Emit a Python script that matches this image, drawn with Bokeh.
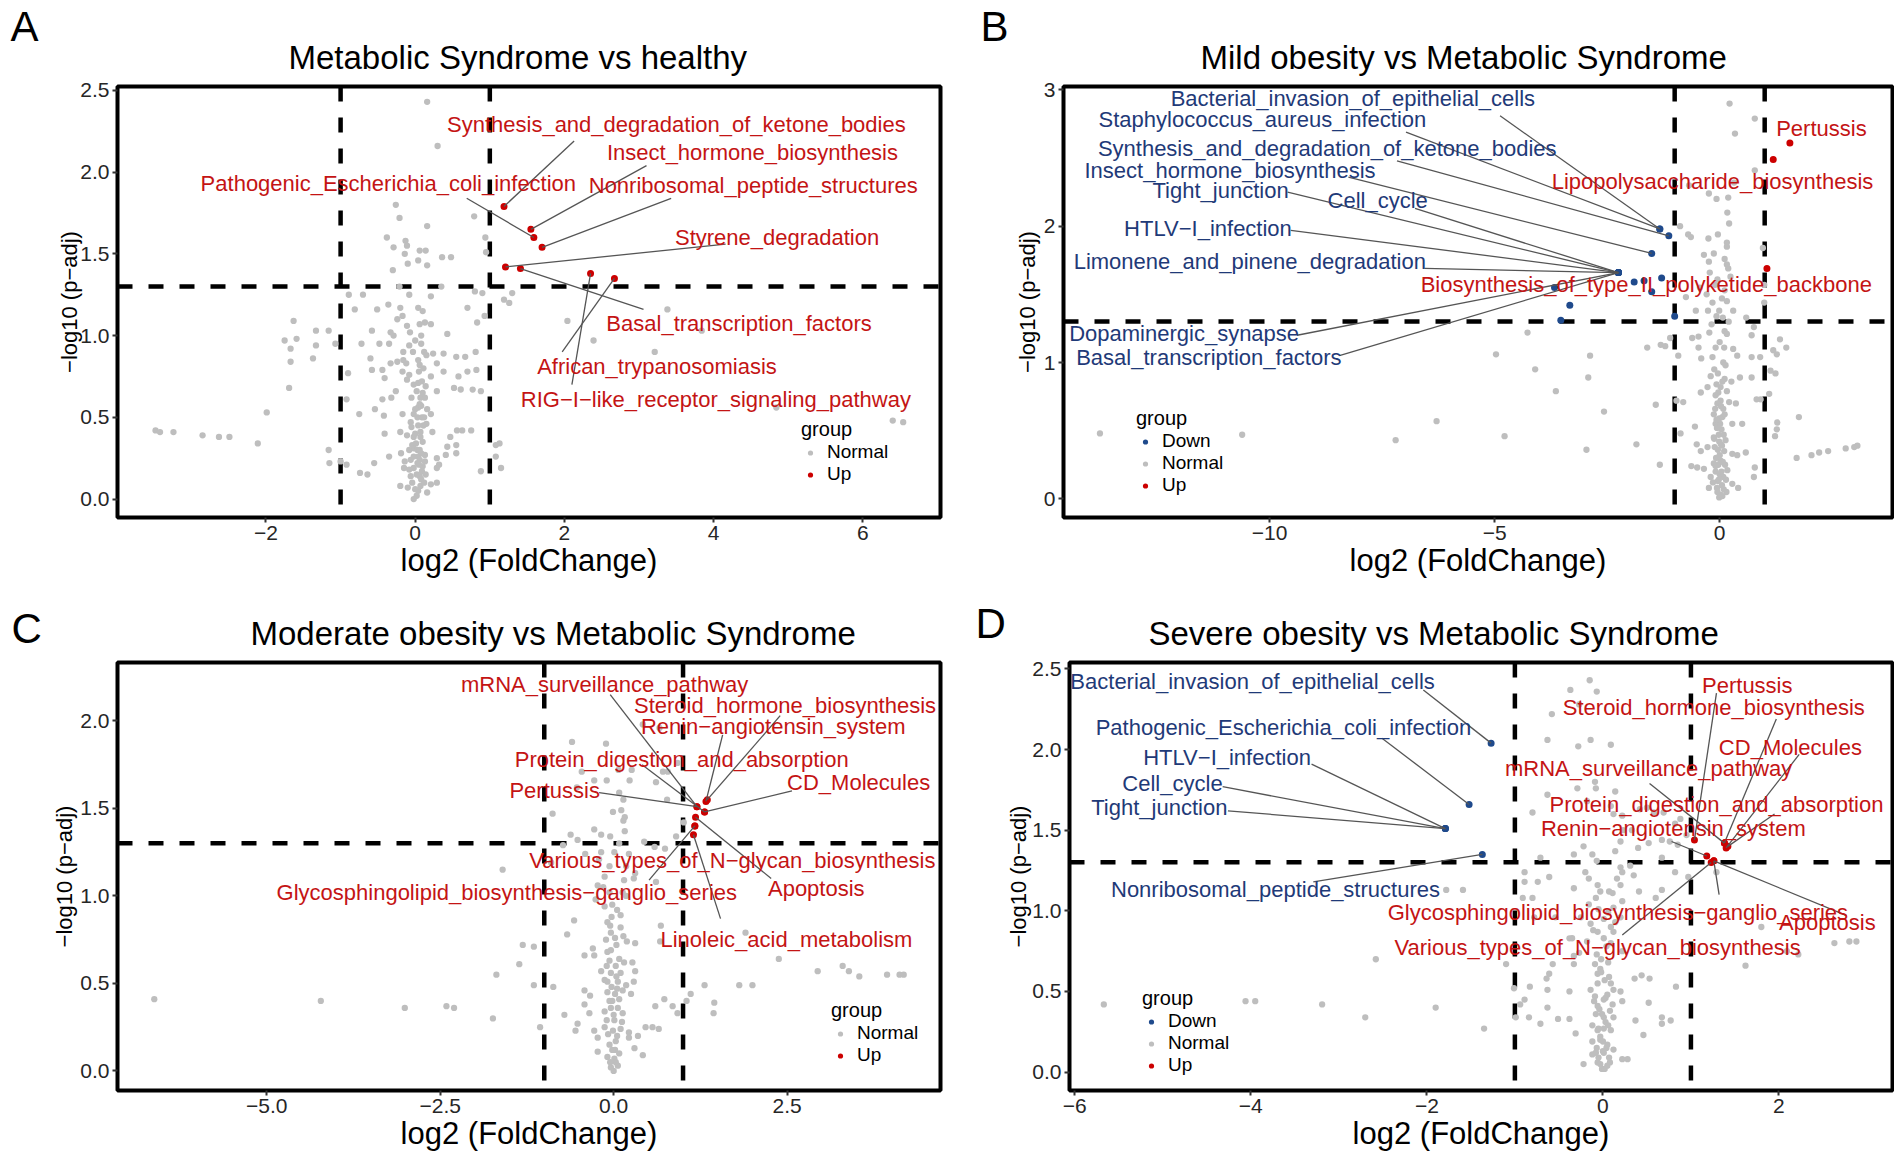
from bokeh.plotting import figure
from bokeh.models import Range1d, Span, Label, Legend, LegendItem, FixedTicker, ColumnDataSource
from bokeh.layouts import row, column
from bokeh.embed import file_html
from bokeh.resources import INLINE
from bokeh.core.properties import value

# ---------------- pathway names ----------------
N_BACT = "Bacterial_invasion_of_epithelial_cells"
N_STAPH = "Staphylococcus_aureus_infection"
N_KET = "Synthesis_and_degradation_of_ketone_bodies"
N_INSECT = "Insect_hormone_biosynthesis"
N_TIGHT = "Tight_junction"
N_CELL = "Cell_cycle"
N_HTLV = "HTLV\u2212I_infection"
N_LIMO = "Limonene_and_pinene_degradation"
N_DOPA = "Dopaminergic_synapse"
N_BASAL = "Basal_transcription_factors"
N_PERT = "Pertussis"
N_LPS = "Lipopolysaccharide_biosynthesis"
N_PKB = "Biosynthesis_of_type_II_polyketide_backbone"
N_ECOLI = "Pathogenic_Escherichia_coli_infection"
N_NRPS = "Nonribosomal_peptide_structures"
N_STY = "Styrene_degradation"
N_AFR = "African_trypanosomiasis"
N_RIG = "RIG\u2212I\u2212like_receptor_signaling_pathway"
N_MRNA = "mRNA_surveillance_pathway"
N_STER = "Steroid_hormone_biosynthesis"
N_RENIN = "Renin\u2212angiotensin_system"
N_PROT = "Protein_digestion_and_absorption"
N_CD = "CD_Molecules"
N_NGLY = "Various_types_of_N\u2212glycan_biosynthesis"
N_APOP = "Apoptosis"
N_GLYCO = "Glycosphingolipid_biosynthesis\u2212ganglio_series"
N_LINO = "Linoleic_acid_metabolism"

# ---------------- Panel A data ----------------
a_title = "Metabolic Syndrome vs healthy"
a_x_ticks = [-2, 0, 2, 4, 6]
a_x_labels = ["\u22122", "0", "2", "4", "6"]
a_y_ticks = [0.0, 0.5, 1.0, 1.5, 2.0, 2.5]
a_y_labels = ["0.0", "0.5", "1.0", "1.5", "2.0", "2.5"]
a_normal_fc = [
    -0.26, -0.21, 0.16, 0.79, -0.38, -0.13, -0.29, -0.11, 0.06, 0.14,
    -0.14, 0.04, -0.10, 0.16, 0.36, 0.48, 0.94, 0.95, -0.30, -0.89,
    -0.70, -0.21, -0.08, 0.21, 0.35, 0.80, 0.90, 1.19, 1.30, -0.36,
    -0.51, -0.81, -0.20, 0.04, 0.10, 0.70, 0.93, 0.83, -0.17, -0.24,
    -0.11, 0.06, 0.13, 0.21, -0.58, -0.33, -0.29, -0.07, 0.08, 0.43,
    -0.72, -0.48, -0.35, -0.08, 0.08, -0.16, 0.24, 0.38, 0.55, 0.67,
    0.81, -1.07, -0.60, -0.33, -0.24, -0.16, -0.12, 0.04, 0.11, 0.29,
    -0.58, -0.44, -0.17, 0.05, 0.21, 0.38, 0.58, 0.70, 0.82, -0.90,
    -0.41, -0.11, 0.04, -0.26, 0.14, 0.29, 0.52, 0.61, 0.77, 0.88,
    -0.92, -0.44, -0.32, 0.07, -0.54, 0.04, 0.16, 0.21, -0.75, -0.42,
    -0.17, -0.02, 0.09, -0.06, 0.04, 0.15, 0.56, 0.63, 0.75, -0.41,
    -0.20, 0.23, -0.11, -0.02, 0.07, 0.47, 0.43, 0.55, 1.08, 1.13,
    -0.35, -0.19, -0.08, -0.02, 0.03, 0.29, 0.41, 0.55, -1.00, -0.55,
    -0.14, -0.06, 0.04, 0.06, 0.13, 0.32, 1.08, -0.92, -0.74, -0.64,
    -0.15, -0.02, 0.29, 0.88, 1.15, -0.06, 0.06, 0.21, 0.29, -0.20,
    -0.10, 0.04, 0.16, -0.02, 0.02, 0.08, 0.10, 0.03, 0.06, 0.10,
    0.00, 0.12, 0.06, 0.10, -0.02, 0.12, 0.00, -0.05, 0.13, -0.04,
    1.26, 3.38, 2.04, 2.39, 3.21, 3.84, 4.84, 6.40, 6.54, 0.16,
    0.30, -3.48, -3.42, -3.24, -2.85, -2.63, -2.49, -2.11, -1.99, -1.69,
    -1.67, -1.75, -1.59, -1.63, -1.67, -1.33, -1.33, -1.37, -1.16, -1.16, -1.15,
    0.00, 0.07, -0.04, 0.12, 0.02, 0.09, -0.08, 0.05, 0.14, -0.02,
    0.08, 0.01, 0.07, -0.05, 0.11, 0.03, 0.00, 0.08, 0.13, 0.02,
    0.09, -0.08, 0.06, 0.15, -0.03,
]
a_normal_p = [
    1.80, 1.72, 1.67, 1.73, 1.60, 1.58, 1.54, 1.55, 1.52, 1.52,
    1.50, 1.46, 1.44, 1.43, 1.48, 1.48, 1.60, 1.51, 1.40, 1.25,
    1.25, 1.30, 1.25, 1.24, 1.30, 1.27, 1.26, 1.22, 1.26, 1.19,
    1.16, 1.16, 1.17, 1.17, 1.15, 1.17, 1.12, 1.08, 1.12, 1.10,
    1.06, 1.07, 1.08, 1.07, 1.03, 1.02, 1.00, 1.02, 1.00, 1.01,
    0.95, 0.95, 0.95, 0.94, 0.95, 0.90, 0.89, 0.89, 0.87, 0.87,
    0.90, 0.95, 0.86, 0.83, 0.84, 0.85, 0.83, 0.85, 0.80, 0.83,
    0.79, 0.79, 0.78, 0.78, 0.75, 0.78, 0.75, 0.78, 0.79, 0.77,
    0.74, 0.73, 0.71, 0.66, 0.69, 0.66, 0.68, 0.67, 0.67, 0.66,
    0.61, 0.61, 0.62, 0.62, 0.55, 0.56, 0.55, 0.52, 0.52, 0.51,
    0.52, 0.52, 0.50, 0.47, 0.45, 0.46, 0.42, 0.42, 0.42, 0.40,
    0.41, 0.41, 0.39, 0.38, 0.38, 0.38, 0.32, 0.33, 0.33, 0.34,
    0.26, 0.28, 0.30, 0.31, 0.30, 0.25, 0.27, 0.28, 0.23, 0.22,
    0.23, 0.24, 0.26, 0.24, 0.23, 0.21, 0.26, 0.21, 0.16, 0.15,
    0.19, 0.19, 0.19, 0.17, 0.19, 0.14, 0.14, 0.09, 0.10, 0.08,
    0.07, 0.05, 0.04, 0.00, 0.02, 0.12, 0.20, 0.22, 0.30, 0.35,
    0.40, 0.50, 0.58, 0.65, 0.70, 0.90, 0.97, 0.62, 0.27, 0.33,
    1.20, 1.16, 1.09, 0.97, 0.90, 1.03, 0.56, 0.48, 0.47, 2.43,
    2.16, 0.42, 0.41, 0.41, 0.39, 0.38, 0.38, 0.34, 0.53, 0.68,
    0.84, 0.97, 0.98, 1.09, 0.92, 1.03, 0.94, 0.86, 1.03, 0.30, 0.22,
    0.06, 0.08, 0.10, 0.10, 0.15, 0.17, 0.18, 0.21, 0.15, 0.26,
    0.28, 0.34, 0.41, 0.44, 0.45, 0.50, 0.55, 0.57, 0.62, 0.66,
    0.72, 0.76, 0.82, 0.88, 0.90,
]
a_up_names = [N_KET, N_INSECT, N_ECOLI, N_NRPS, N_STY, N_BASAL, N_AFR, N_RIG]
a_up_fc = [1.19, 1.55, 1.59, 1.70, 1.21, 1.41, 2.67, 2.35]
a_up_p = [1.79, 1.65, 1.60, 1.54, 1.42, 1.41, 1.35, 1.38]

# ---------------- Panel B data ----------------
b_title = "Mild obesity vs Metabolic Syndrome"
b_x_ticks = [-10, -5, 0]
b_x_labels = ["\u221210", "\u22125", "0"]
b_y_ticks = [0, 1, 2, 3]
b_y_labels = ["0", "1", "2", "3"]
b_normal_fc = [
    0.22, 0.78, 0.34, 0.78, 0.32, -0.68, -0.24, -0.07, 0.19, 0.17,
    0.21, -0.88, -0.70, -0.64, -0.25, -0.04, 0.16, 0.16, 0.96, -0.35,
    -0.13, 0.11, 0.16, -0.24, 0.19, -0.22, 0.24, -0.05, -0.44, -0.29,
    0.11, -0.75, 0.99, 0.99, -0.16, 0.16, -0.26, -0.01, -0.53, 0.30,
    -0.07, 0.07, 0.59, 0.76, 0.11, 0.16, -0.23, -1.10, -0.61, -0.47,
    0.71, 1.34, -1.31, -1.21, -1.61, -0.47, -0.09, 0.10, 0.30, 1.19,
    1.48, -0.92, -0.41, -0.16, 0.08, 0.39, 0.71, 0.90, 1.27, -0.20,
    -0.04, 0.11, 0.26, 0.45, 0.71, 1.13, 1.24, -0.42, -0.27, -0.07,
    0.02, 0.16, -0.09, 0.02, 0.21, 0.36, 0.82, 0.91, 1.10, -1.42,
    -0.96, -0.81, -2.57, -0.13, -0.01, -0.09, 0.04, 0.28, 0.50, 1.28,
    1.27, 1.23, 1.76, -0.55, -0.87, -1.85, -0.51, -0.27, -0.13, -0.01,
    0.13, 0.39, 0.58, 0.28, -0.42, -1.33, -0.63, -0.50, -0.35, -0.13,
    0.02, 0.17, -0.09, -0.20, -0.04, 0.08, 0.28, 0.41, -0.01, -0.24,
    0.78, 0.76, 1.71, 2.04, 2.21, 2.41, 2.80, 2.99, 3.06, -0.05,
    0.05, 0.00, -0.08, 0.10, -0.02, 0.06, -0.10, 0.12, 0.00, -0.15,
    0.15, -13.77, -10.61, -7.20, -6.29, -4.78, -4.97, -4.27, -4.10, -2.88,
    -2.92, -3.64, -2.96,
    0.03, -0.06, 0.08, -0.03, 0.06, -0.11, 0.14, -0.05,
    0.02, -0.06, 0.09, -0.02, 0.04, -0.09, 0.07, -0.04, 0.05, -0.12,
    0.09, 0.01, -0.07, 0.11, 0.03, -0.03, 0.06, -0.12, 0.13, 0.00,
    -0.18, 0.20, 0.05, -0.10,
]
b_normal_p = [
    2.90, 2.79, 2.68, 2.41, 2.32, 2.30, 2.24, 2.20, 2.21, 2.10,
    2.02, 2.00, 1.94, 1.92, 1.91, 1.94, 1.88, 1.85, 1.84, 1.79,
    1.80, 1.76, 1.72, 1.74, 1.69, 1.66, 1.63, 1.61, 1.55, 1.50,
    1.53, 1.48, 1.57, 1.44, 1.44, 1.45, 1.38, 1.38, 1.38, 1.38,
    1.34, 1.33, 1.33, 1.26, 1.23, 1.21, 1.22, 1.18, 1.18, 1.19,
    1.20, 1.17, 1.13, 1.12, 1.11, 1.11, 1.11, 1.11, 1.10, 1.09,
    1.11, 1.05, 1.03, 1.04, 1.00, 1.05, 1.04, 1.04, 1.06, 0.90,
    0.92, 0.88, 0.86, 0.89, 0.89, 0.94, 0.92, 0.78, 0.82, 0.84,
    0.82, 0.79, 0.76, 0.72, 0.71, 0.70, 0.73, 0.73, 0.77, 0.69,
    0.72, 0.71, 0.64, 0.62, 0.59, 0.55, 0.51, 0.55, 0.55, 0.56,
    0.51, 0.46, 0.60, 0.53, 0.48, 0.40, 0.40, 0.38, 0.45, 0.42,
    0.43, 0.32, 0.34, 0.33, 0.35, 0.25, 0.24, 0.23, 0.22, 0.26,
    0.28, 0.21, 0.20, 0.16, 0.13, 0.16, 0.11, 0.08, 0.01, 0.08,
    0.23, 0.16, 0.30, 0.32, 0.34, 0.35, 0.37, 0.38, 0.39, 0.05,
    0.10, 0.18, 0.30, 0.35, 0.47, 0.60, 0.66, 0.25, 0.32, 0.12,
    0.05, 0.48, 0.47, 0.43, 0.57, 0.46, 1.06, 1.22, 0.95, 1.05,
    0.89, 0.79, 0.36,
    0.40, 0.52, 0.66, 0.25, 0.02, 0.38, 0.14, 0.70,
    0.03, 0.08, 0.07, 0.14, 0.20, 0.24, 0.27, 0.36, 0.39, 0.44,
    0.47, 0.55, 0.58, 0.62, 0.68, 0.78, 0.86, 0.95, 0.98, 1.15,
    1.28, 1.30, 1.47, 1.57,
]
b_down_names = [N_BACT, N_STAPH, N_KET, N_INSECT, N_TIGHT, N_CELL, N_HTLV, N_LIMO,
                N_DOPA, N_BASAL, "", "", "", "", "", "", "", ""]
b_down_fc = [-1.33, -1.33, -1.13, -1.51, -2.25, -2.25, -2.25, -2.25, -2.25, -2.25,
             -1.90, -1.68, -1.29, -1.51, -1.00, -3.67, -3.33, -3.53]
b_down_p = [1.98, 1.98, 1.93, 1.80, 1.66, 1.66, 1.66, 1.66, 1.66, 1.66,
            1.59, 1.60, 1.62, 1.52, 1.34, 1.55, 1.42, 1.31]
b_up_names = [N_PERT, N_LPS, N_PKB]
b_up_fc = [1.56, 1.19, 1.05]
b_up_p = [2.61, 2.49, 1.69]

# ---------------- Panel C data ----------------
c_title = "Moderate obesity vs Metabolic Syndrome"
c_x_ticks = [-5.0, -2.5, 0.0, 2.5]
c_x_labels = ["\u22125.0", "\u22122.5", "0.0", "2.5"]
c_y_ticks = [0.0, 0.5, 1.0, 1.5, 2.0]
c_y_labels = ["0.0", "0.5", "1.0", "1.5", "2.0"]
c_normal_fc = [
    -0.60, -0.11, 0.42, 0.66, -0.46, -0.28, -0.10, 0.07, 0.23, 0.26,
    0.61, 0.71, 0.78, 0.92, 0.77, -0.53, 0.08, 0.14, 0.11, -0.01,
    -0.88, 0.16, 0.14, 0.16, 1.01, -0.28, -0.18, -0.05, -0.62, -0.52,
    -0.73, 0.90, 0.44, 0.59, 0.74, -0.41, -0.18, 0.01, 0.22, -1.60,
    -0.90, -0.21, -0.06, 0.18, 0.31, 0.29, 0.15, 0.61, -0.13, -0.23,
    -0.06, 0.13, -0.26, -0.13, -0.03, 0.10, -0.09, -0.57, -0.67, -0.04,
    0.14, 0.19, 0.31, -0.11, 0.68, 0.67, -1.31, -1.15, -0.30, -0.04,
    -0.42, -0.28, -1.36, -0.10, 0.03, 0.15, 0.27, -0.18, -0.04, 0.10,
    0.31, -1.69, -0.09, 0.06, 0.18, 0.29, -1.15, -0.87, -0.42, -0.34,
    -0.09, 0.02, 0.25, 1.11, 1.31, 1.81, -3.01, -2.41, -2.30, -1.74,
    -1.06, -0.71, -0.42, -0.35, -0.52, -0.55, -0.28, -0.13, -0.04, 0.06,
    0.13, -0.10, 0.01, -0.13, -0.01, 0.10, 0.22, 0.35, 0.30, 0.42,
    -0.23, -0.23, -0.06, 0.03, -0.09, 0.01, 0.06, 0.00, -0.04, 0.46,
    0.56, 0.65, 0.60, 0.73, 0.85, 0.92, 1.05, 1.45, 1.44, 0.22,
    1.90, -6.62, -4.22, 2.38, 2.94, 3.30, 3.39, 3.54, 3.94, 4.12,
    4.18, 2.00, 0.02, -0.02, 0.05, -0.06, 0.04, -0.02, 0.08,
    0.03, -0.05, 0.08, -0.02, 0.05, -0.08, 0.12, 0.00, -0.06, 0.08,
    0.13, -0.03, 0.04, -0.13, 0.08, -0.09, 0.02, 0.10, -0.05, 0.05,
    0.18, -0.15,
]
c_normal_p = [
    1.88, 1.87, 1.98, 1.96, 1.71, 1.66, 1.66, 1.72, 1.66, 1.72,
    1.65, 1.71, 1.71, 1.76, 1.55, 1.62, 1.59, 1.55, 1.49, 1.48,
    1.47, 1.45, 1.43, 1.37, 1.42, 1.38, 1.35, 1.34, 1.35, 1.32,
    1.29, 1.34, 1.31, 1.28, 1.27, 1.24, 1.25, 1.25, 1.24, 1.15,
    1.19, 1.21, 1.17, 1.17, 1.13, 1.10, 1.09, 1.08, 1.11, 1.06,
    1.02, 1.02, 0.98, 0.94, 0.88, 0.89, 0.85, 0.86, 0.78, 0.79,
    0.77, 0.74, 0.73, 0.75, 0.83, 0.74, 0.72, 0.71, 0.70, 0.69,
    0.66, 0.66, 0.61, 0.60, 0.60, 0.62, 0.62, 0.57, 0.56, 0.56,
    0.57, 0.55, 0.51, 0.51, 0.49, 0.51, 0.49, 0.48, 0.46, 0.43,
    0.45, 0.44, 0.44, 0.44, 0.49, 0.49, 0.36, 0.37, 0.36, 0.30,
    0.25, 0.32, 0.38, 0.33, 0.27, 0.23, 0.23, 0.34, 0.36, 0.36,
    0.33, 0.29, 0.29, 0.25, 0.23, 0.24, 0.22, 0.20, 0.13, 0.09,
    0.19, 0.11, 0.15, 0.17, 0.08, 0.07, 0.03, 0.00, 0.02, 0.25,
    0.25, 0.24, 0.37, 0.41, 0.37, 0.33, 0.40, 0.39, 0.33, 0.19,
    0.79, 0.41, 0.40, 0.64, 0.57, 0.60, 0.57, 0.54, 0.55, 0.55,
    0.55, 0.49, 0.12, 0.40, 0.47, 0.63, 0.72, 0.95, 1.30,
    0.05, 0.05, 0.10, 0.12, 0.20, 0.21, 0.28, 0.32, 0.40, 0.41,
    0.46, 0.48, 0.54, 0.52, 0.64, 0.68, 0.76, 0.82, 0.83, 0.92,
    1.00, 1.05,
]
c_up_names = [N_MRNA, N_STER, N_RENIN, N_PROT, N_CD, N_PERT, N_NGLY, N_APOP, N_GLYCO, N_LINO]
c_up_fc = [1.20, 1.35, 1.33, 1.31, 1.31, 1.20, 1.17, 1.18, 1.17, 1.15]
c_up_p = [1.51, 1.55, 1.54, 1.48, 1.48, 1.51, 1.40, 1.45, 1.40, 1.35]

# ---------------- Panel D data ----------------
d_title = "Severe obesity vs Metabolic Syndrome"
d_x_ticks = [-6, -4, -2, 0, 2]
d_x_labels = ["\u22126", "\u22124", "\u22122", "0", "2"]
d_y_ticks = [0.0, 0.5, 1.0, 1.5, 2.0, 2.5]
d_y_labels = ["0.0", "0.5", "1.0", "1.5", "2.0", "2.5"]
d_normal_fc = [
    -0.15, -0.37, -0.07, -0.27, -0.58, -0.63, -0.28, -0.14, 0.09, -0.29,
    -0.09, -0.08, 0.14, -0.18, -0.63, -0.80, 0.09, 0.12, 0.22, 0.42,
    0.50, 0.58, 0.69, 0.82, 0.88, 0.23, 0.33, 0.20, 0.40, 0.52,
    0.67, 0.76, 0.85, 0.95, -0.71, -0.33, -0.12, -0.07, 0.14, 0.67,
    -0.89, -0.61, -0.74, -0.89, -0.20, -0.16, 0.20, 0.22, 0.31, 0.35,
    0.82, 0.97, 1.29, -0.33, -0.06, 0.07, 0.11, 0.20, 0.41, 0.67,
    0.60, -1.78, -1.59, -0.91, -0.80, -0.16, -0.08, 0.12, 0.22, -0.78,
    -0.54, -0.25, -0.14, 0.01, 0.09, 0.20, 1.80, -0.06, 0.12, -0.35,
    -0.38, -0.18, 0.09, 0.22, -0.27, -0.33, 2.63, 2.80, 2.88, 2.09,
    2.22, 1.62, -1.10, -0.57, -0.33, -0.09, -0.03, -0.61, -0.64, -0.06,
    0.07, -1.01, -0.83, -0.63, -0.38, -0.14, -0.06, 0.12, 0.20, 0.36,
    0.44, 0.53, 0.83, -0.89, -0.94, -0.63, -0.10, -0.06, 0.03, 0.11,
    0.22, 0.52, -0.99, -0.84, -0.51, -0.38, -0.08, 0.01, 0.12, 0.37,
    0.67, 0.77, 0.67, -1.35, -0.71, -0.31, -0.12, -0.06, 0.01, 0.09,
    0.46, -0.12, -0.03, 0.05, -0.07, -0.12, 0.01, 0.12, 0.22, 0.28,
    -0.22, -0.06, -0.01, 0.05, -0.05, 0.07, 0.00, -0.03, 0.03, -0.04,
    0.05, 0.02, -0.02, 0.04, 0.06, -0.05, -5.67, -4.06, -3.95, -3.19,
    -2.70, -2.58, -1.90,
    0.02, -0.03, 0.08, -0.08, 0.04, 0.00, -0.05, 0.06, -0.01, 0.08,
    -0.09, 0.01, 0.09, -0.02, 0.06, -0.07, 0.01, -0.11, 0.14, -0.03,
    0.16, -0.22,
]
d_normal_p = [
    2.43, 2.37, 2.36, 2.28, 2.22, 2.06, 2.02, 2.06, 2.03, 1.76,
    1.80, 1.76, 1.74, 1.68, 1.72, 1.61, 1.65, 1.60, 1.59, 1.63,
    1.64, 1.61, 1.61, 1.54, 1.57, 1.50, 1.50, 1.43, 1.39, 1.42,
    1.44, 1.43, 1.41, 1.47, 1.33, 1.35, 1.35, 1.31, 1.37, 1.33,
    1.24, 1.21, 1.18, 1.18, 1.24, 1.20, 1.27, 1.24, 1.28, 1.22,
    1.24, 1.21, 1.24, 1.14, 1.16, 1.12, 1.11, 1.16, 1.12, 1.13,
    1.08, 1.13, 1.13, 1.08, 1.08, 1.04, 1.08, 1.02, 1.06, 0.96,
    0.96, 0.96, 0.92, 0.95, 0.90, 0.96, 0.90, 0.87, 0.87, 0.83,
    0.83, 0.81, 0.80, 0.75, 0.74, 0.72, 0.80, 0.81, 0.81, 0.75,
    0.73, 0.66, 0.67, 0.67, 0.67, 0.67, 0.64, 0.61, 0.58, 0.61,
    0.59, 0.52, 0.53, 0.51, 0.50, 0.51, 0.55, 0.51, 0.50, 0.58,
    0.60, 0.58, 0.53, 0.45, 0.42, 0.40, 0.44, 0.41, 0.46, 0.42,
    0.44, 0.43, 0.34, 0.34, 0.33, 0.33, 0.36, 0.34, 0.34, 0.32,
    0.34, 0.32, 0.30, 0.27, 0.30, 0.24, 0.29, 0.26, 0.27, 0.26,
    0.23, 0.19, 0.20, 0.17, 0.15, 0.11, 0.12, 0.14, 0.08, 0.08,
    0.05, 0.06, 0.02, 0.04, 0.09, 0.09, 0.13, 0.22, 0.31, 0.39,
    0.48, 0.57, 0.70, 0.78, 0.99, 1.01, 0.42, 0.44, 0.44, 0.42,
    0.34, 0.70, 0.40,
    0.02, 0.05, 0.06, 0.12, 0.15, 0.19, 0.27, 0.29, 0.36, 0.38,
    0.47, 0.45, 0.55, 0.62, 0.68, 0.73, 0.83, 0.88, 0.93, 1.12,
    1.20, 1.40,
]
d_down_names = [N_BACT, N_ECOLI, N_HTLV, N_CELL, N_TIGHT, N_NRPS]
d_down_fc = [-1.27, -1.52, -1.79, -1.79, -1.79, -1.37]
d_down_p = [2.04, 1.66, 1.51, 1.51, 1.51, 1.35]
d_up_names = [N_PERT, N_STER, N_CD, N_MRNA, N_PROT, N_RENIN, N_GLYCO, N_APOP, N_NGLY]
d_up_fc = [1.04, 1.38, 1.40, 1.38, 1.42, 1.18, 1.26, 1.26, 1.23]
d_up_p = [1.44, 1.42, 1.39, 1.42, 1.40, 1.34, 1.31, 1.31, 1.30]

# ---------------- layout / style (not data) ----------------
FONT = "Liberation Sans"
GRAY = "#BEBEBE"
RED = "#CC0000"
BLUE = "#1F4A8C"
RED_TXT = "#C41414"
BLUE_TXT = "#1F3A78"
SEG = "#555555"

# page = absolute top-left of each figure on the page (Bokeh's template has no body margin)
CFG = {
    "A": dict(page=(0, 0), size=(951, 584), border=(117, 11, 86, 67), xr=(-3.99, 7.04), yr=(-0.113, 2.524),
              title_off=171, ylab_standoff=-5, legend=(684, 32), letter_at=(10, 26)),
    "B": dict(page=(951, 0), size=(943, 584), border=(112, 2, 86, 67), xr=(-14.58, 3.84), yr=(-0.137, 3.025),
              title_off=137, ylab_standoff=1, legend=(73, 21), letter_at=(980, 26)),
    "C": dict(page=(0, 584), size=(951, 576), border=(117, 11, 78, 68), xr=(-7.15, 4.71), yr=(-0.112, 2.334),
              title_off=133, ylab_standoff=0, legend=(714, 24), letter_at=(11, 628)),
    "D": dict(page=(951, 584), size=(943, 576), border=(118, 2, 76, 70), xr=(-6.06, 3.29), yr=(-0.114, 2.540),
              title_off=79, ylab_standoff=-2, legend=(73, 14), letter_at=(975, 621)),
}

# label placement: name -> (text x, text y, segment end x, segment end y)
A_LAYOUT = {
    N_KET: (3.50, 2.29, 2.13, 2.19),
    N_INSECT: (4.52, 2.12, 3.10, 2.04),
    N_ECOLI: (-0.36, 1.93, 0.69, 1.84),
    N_NRPS: (4.53, 1.92, 3.43, 1.84),
    N_STY: (4.85, 1.60, 4.16, 1.56),
    N_BASAL: (4.34, 1.075, 3.06, 1.16),
    N_AFR: (3.24, 0.81, 1.97, 0.90),
    N_RIG: (4.03, 0.61, 2.10, 0.70),
}
B_LAYOUT = {
    N_BACT: (-8.15, 2.94, -4.88, 2.81),
    N_STAPH: (-10.16, 2.78, -6.97, 2.69),
    N_KET: (-8.72, 2.57, -7.17, 2.48),
    N_INSECT: (-10.88, 2.41, -8.25, 2.36),
    N_TIGHT: (-11.09, 2.26, -9.60, 2.25),
    N_CELL: (-7.60, 2.19, -6.77, 2.13),
    N_HTLV: (-11.37, 1.98, -9.53, 1.97),
    N_LIMO: (-10.44, 1.74, -6.56, 1.69),
    N_DOPA: (-11.90, 1.21, -9.39, 1.20),
    N_BASAL: (-11.35, 1.04, -8.45, 1.05),
    N_PERT: (2.26, 2.72, None, None),
    N_LPS: (-0.16, 2.33, None, None),
    N_PKB: (-1.63, 1.57, None, None),
}
C_LAYOUT = {
    N_MRNA: (-0.13, 2.21, -0.05, 2.15),
    N_STER: (2.47, 2.09, 2.40, 2.03),
    N_RENIN: (2.30, 1.97, 1.57, 1.92),
    N_PROT: (0.98, 1.78, 0.41, 1.75),
    N_CD: (3.53, 1.65, 2.57, 1.60),
    N_PERT: (-0.85, 1.60, -0.21, 1.59),
    N_NGLY: (1.71, 1.20, None, None),
    N_APOP: (2.92, 1.04, 2.27, 1.10),
    N_GLYCO: (-1.54, 1.02, 0.51, 1.09),
    N_LINO: (2.49, 0.75, 1.54, 0.87),
}
D_LAYOUT = {
    N_BACT: (-3.98, 2.42, -2.04, 2.37),
    N_ECOLI: (-3.63, 2.14, -2.51, 2.07),
    N_HTLV: (-4.27, 1.95, -3.31, 1.91),
    N_CELL: (-4.89, 1.79, -4.32, 1.77),
    N_TIGHT: (-5.04, 1.64, -4.26, 1.62),
    N_NRPS: (-3.72, 1.13, -3.29, 1.18),
    N_PERT: (1.64, 2.40, 1.29, 2.35),
    N_STER: (1.26, 2.26, 1.97, 2.19),
    N_CD: (2.13, 2.01, 2.23, 1.97),
    N_MRNA: (0.52, 1.88, 0.53, 1.79),
    N_PROT: (1.29, 1.66, 1.95, 1.60),
    N_RENIN: (0.80, 1.51, 0.78, 1.43),
    N_GLYCO: (0.17, 0.99, 1.32, 1.10),
    N_APOP: (2.55, 0.93, 2.77, 0.97),
    N_NGLY: (-0.06, 0.77, 0.22, 0.85),
}


def page_to_data(cfg, px, py):
    (ox, oy), (w, h) = cfg["page"], cfg["size"]
    bl, br, bt, bb = cfg["border"]
    fw, fh = w - bl - br, h - bt - bb
    x0, x1 = cfg["xr"]
    y0, y1 = cfg["yr"]
    return (x0 + (px - ox - bl) / fw * (x1 - x0), y1 - (py - oy - bt) / fh * (y1 - y0))


def make_panel(key, title, normal, down, up, xt, xl, yt, yl, layout):
    cfg = CFG[key]
    w, h = cfg["size"]
    bl, br, bt, bb = cfg["border"]
    p = figure(width=w, height=h, output_backend="svg", toolbar_location=None,
               x_range=Range1d(*cfg["xr"]), y_range=Range1d(*cfg["yr"]),
               min_border_left=bl, min_border_right=br, min_border_top=bt, min_border_bottom=bb,
               x_axis_label="log2 (FoldChange)", y_axis_label="\u2212log10 (p\u2212adj)",
               title=title, background_fill_color="white", border_fill_color="white")
    p.grid.visible = False
    p.outline_line_color = "black"
    p.outline_line_width = 4
    p.outline_line_alpha = 1.0

    p.title.text_font = FONT
    p.title.text_font_size = "33px"
    p.title.text_font_style = "normal"
    p.title.text_color = "black"
    p.title.align = "left"
    p.title.offset = cfg["title_off"]
    if "standoff" in p.title.properties():
        p.title.standoff = 22

    for ax in (p.xaxis[0], p.yaxis[0]):
        ax.axis_line_color = None
        ax.major_tick_line_color = "#333333"
        ax.major_tick_line_width = 2
        ax.major_tick_out = 5
        ax.major_tick_in = 0
        ax.minor_tick_line_color = None
        ax.major_label_text_font = FONT
        ax.major_label_text_font_size = "21px"
        ax.major_label_text_color = "#262626"
        ax.major_label_standoff = 3
        ax.axis_label_text_font = FONT
        ax.axis_label_text_font_style = "normal"
        ax.axis_label_text_color = "black"
    xa, ya = p.xaxis[0], p.yaxis[0]
    xa.ticker = FixedTicker(ticks=xt)
    xa.major_label_overrides = {t: s for t, s in zip(xt, xl)}
    xa.axis_label_text_font_size = "31px"
    xa.axis_label_standoff = 0
    ya.ticker = FixedTicker(ticks=yt)
    ya.major_label_overrides = {t: s for t, s in zip(yt, yl)}
    ya.axis_label_text_font_size = "22px"
    ya.axis_label_standoff = cfg["ylab_standoff"]

    dash = dict(line_color="black", line_width=4.5, line_dash="15 16", level="underlay")
    p.add_layout(Span(location=-1, dimension="height", **dash))
    p.add_layout(Span(location=1, dimension="height", **dash))
    p.add_layout(Span(location=1.301, dimension="width", **dash))

    r_norm = p.scatter(normal[0], normal[1], size=6.3, fill_color=GRAY, line_color=None)
    r_down = None
    if down is not None:
        r_down = p.scatter(down[0], down[1], size=7, fill_color=BLUE, line_color=None)
    r_up = p.scatter(up[0], up[1], size=7, fill_color=RED, line_color=None)

    seg = dict(x0=[], y0=[], x1=[], y1=[])
    txt = dict(x=[], y=[], text=[], color=[])
    groups = []
    if down is not None:
        groups.append((down, BLUE_TXT))
    groups.append((up, RED_TXT))
    for (fcs, ps, names), col in groups:
        for fc, pv, name in zip(fcs, ps, names):
            if name not in layout:
                continue
            tx, ty, ex, ey = layout[name]
            txt["x"].append(tx)
            txt["y"].append(ty)
            txt["text"].append(name)
            txt["color"].append(col)
            if ex is not None:
                seg["x0"].append(fc)
                seg["y0"].append(pv)
                seg["x1"].append(ex)
                seg["y1"].append(ey)
    p.segment(x0="x0", y0="y0", x1="x1", y1="y1", source=ColumnDataSource(seg),
              line_color=SEG, line_width=1.3)
    p.text(x="x", y="y", text="text", text_color="color", source=ColumnDataSource(txt),
           text_font=value(FONT), text_font_size=value("22px"),
           text_align="center", text_baseline="middle")

    items = []
    if r_down is not None:
        items.append(LegendItem(label="Down", renderers=[r_down]))
    items.append(LegendItem(label="Normal", renderers=[r_norm]))
    items.append(LegendItem(label="Up", renderers=[r_up]))
    leg = Legend(items=items, location=cfg["legend"], title="group",
                 title_text_font=FONT, title_text_font_size="20px", title_text_font_style="normal",
                 title_text_color="black", title_standoff=0, title_text_line_height=1.0,
                 label_text_font=FONT, label_text_font_size="19px", label_text_color="black",
                 label_text_line_height=1.0,
                 glyph_width=18, glyph_height=13, label_standoff=8, label_height=13,
                 spacing=0, padding=0, margin=0,
                 background_fill_alpha=0, border_line_alpha=0)
    p.add_layout(leg)

    # panel letter: placed in the (roomy) left side panel so it is not clipped to the frame
    lx, ly = page_to_data(cfg, *cfg["letter_at"])
    p.add_layout(Label(x=lx, y=ly, text=key, text_font=FONT, text_font_size="42px",
                       text_color="black", text_align="left", text_baseline="alphabetic"), "left")
    return p


pA = make_panel("A", a_title, (a_normal_fc, a_normal_p), None, (a_up_fc, a_up_p, a_up_names),
                a_x_ticks, a_x_labels, a_y_ticks, a_y_labels, A_LAYOUT)
pB = make_panel("B", b_title, (b_normal_fc, b_normal_p), (b_down_fc, b_down_p, b_down_names),
                (b_up_fc, b_up_p, b_up_names), b_x_ticks, b_x_labels, b_y_ticks, b_y_labels, B_LAYOUT)
pC = make_panel("C", c_title, (c_normal_fc, c_normal_p), None, (c_up_fc, c_up_p, c_up_names),
                c_x_ticks, c_x_labels, c_y_ticks, c_y_labels, C_LAYOUT)
pD = make_panel("D", d_title, (d_normal_fc, d_normal_p), (d_down_fc, d_down_p, d_down_names),
                (d_up_fc, d_up_p, d_up_names), d_x_ticks, d_x_labels, d_y_ticks, d_y_labels, D_LAYOUT)

layout = column(row(pA, pB), row(pC, pD))
open("out.html", "w").write(file_html(layout, INLINE, title="Volcano plots"))
